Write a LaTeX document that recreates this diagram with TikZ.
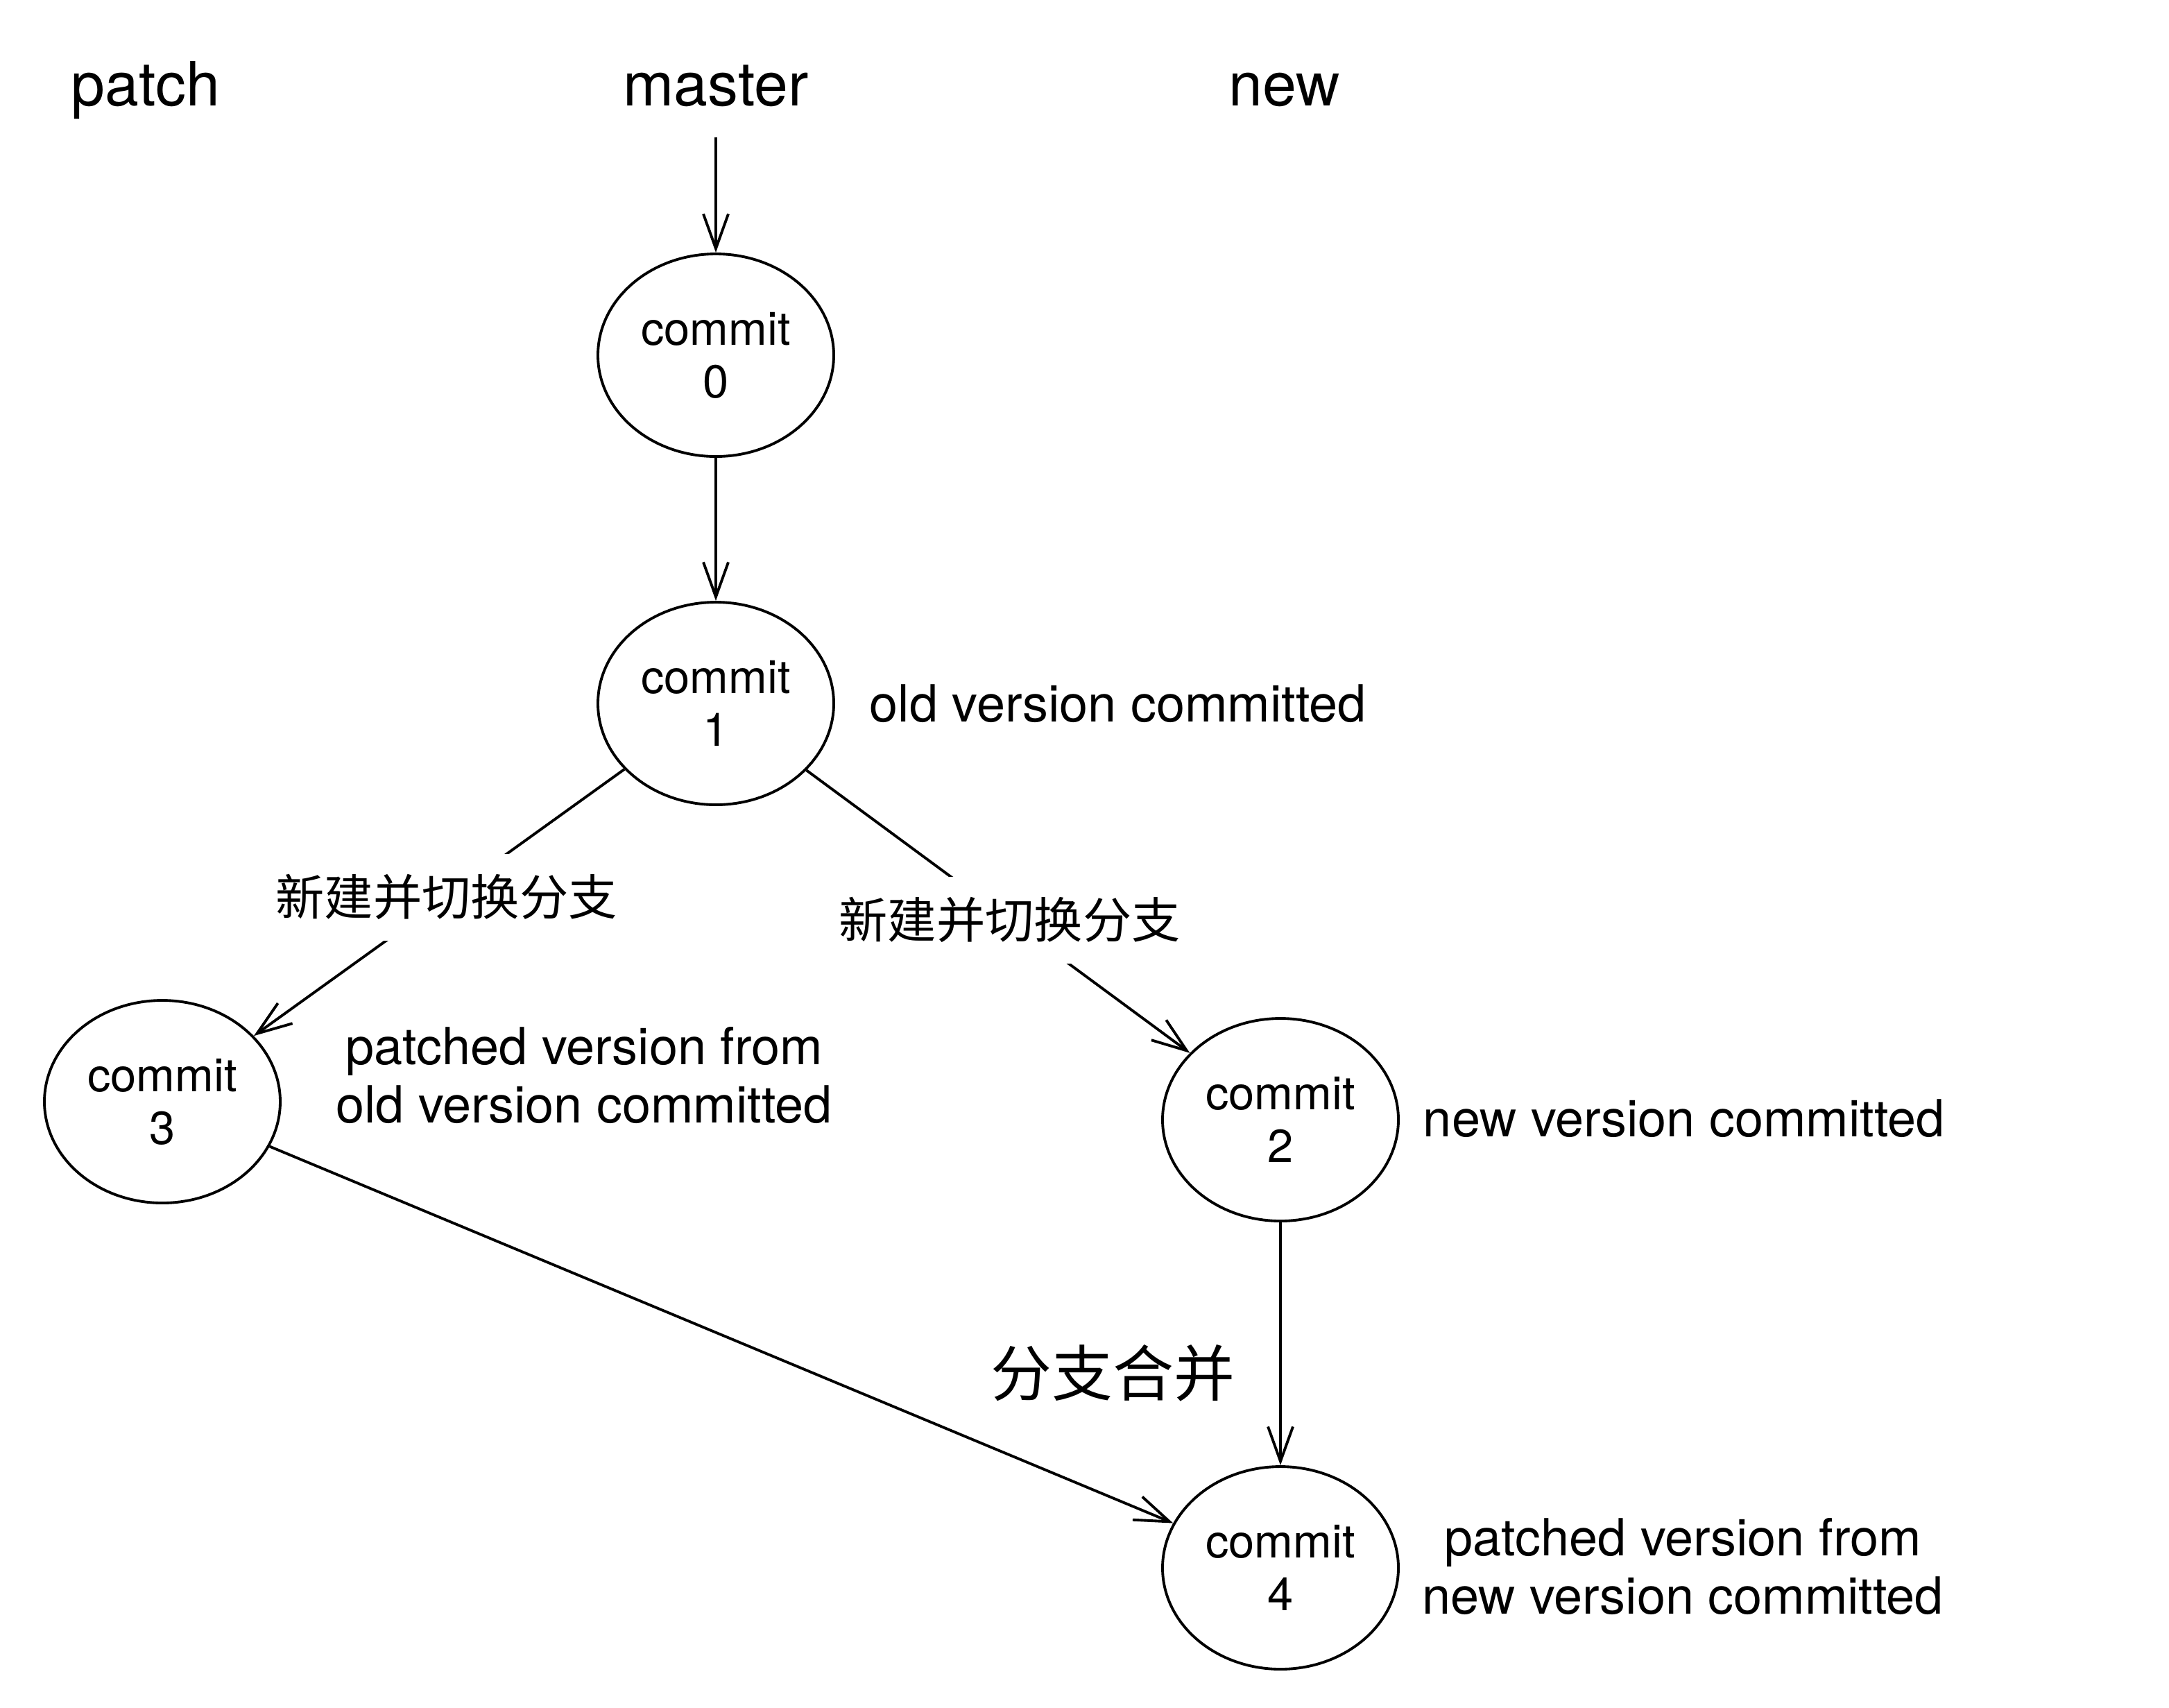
\documentclass[tikz,border=0pt]{standalone}
\usepackage{fontspec}
\setmainfont{TeX Gyre Heros}
\newfontfamily\cjk{Noto Sans CJK SC}
\usetikzlibrary{arrows.meta}
\usetikzlibrary{shapes.geometric}
\usetikzlibrary{positioning}
\tikzset{>={Straight Barb[length=5mm, width=3.6mm]},
         commit/.style = {ellipse, draw, minimum width=3.4cm, minimum height=2.92cm,
                          inner sep=0pt, align=center, font=\fontsize{19}{21.6}\selectfont},
         branch/.style = {anchor=base, inner sep=0.43cm, font=\fontsize{25}{30}\selectfont},
         note/.style = {inner sep=0pt, align=center, font=\fontsize{21}{24}\selectfont},
         switch/.style = {fill=white, inner sep=0.3cm, font=\cjk\fontsize{20}{24}\selectfont}}

\begin{document}
\begin{tikzpicture}[xscale=2, yscale=-2, line width=1.1pt]
    \useasboundingbox (0, 0) rectangle (15.635, 12.305);
    \node (patch) [branch] at (1.05, 0.76) {patch};
    \node (master) [branch] at (5.16, 0.76) {master};
    \node (new) [branch] at (9.26, 0.76) {new};
    \node (c0) [commit] at (5.16, 2.56) {commit\\0};
    \node (c1) [commit] at (5.16, 5.07) {commit\\1};
    \node (c3) [commit] at (1.17, 7.94) {commit\\3};
    \node (c2) [commit] at (9.23, 8.07) {commit\\2};
    \node (c4) [commit] at (9.23, 11.30) {commit\\4};
    \node (old) [note, anchor=west] at (6.26, 5.07) {old version committed};
    \node (patchold) [note] at (4.21, 7.75) {patched version from\\old version committed};
    \node (newver) [note, anchor=west] at (10.25, 8.06) {new version committed};
    \node (patchnew) [note] at (12.13, 11.29) {patched version from\\new version committed};

    \draw [->] (master) -- (c0);
    \draw [->] (c0) -- (c1);
    \draw [->] (c1) -- (c3) node [switch, pos=0.48] (sw3) {新建并切换分支};
    \draw [->] (c1) -- (c2) node [switch, pos=0.53] (sw2) {新建并切换分支};
    \draw [->] (c3) -- (c4);
    \draw [->] (c2) -- (c4) node [pos=0.62, left=5.2mm, font=\cjk\fontsize{25}{30}\selectfont] (merge) {分支合并};
\end{tikzpicture}
\end{document}
